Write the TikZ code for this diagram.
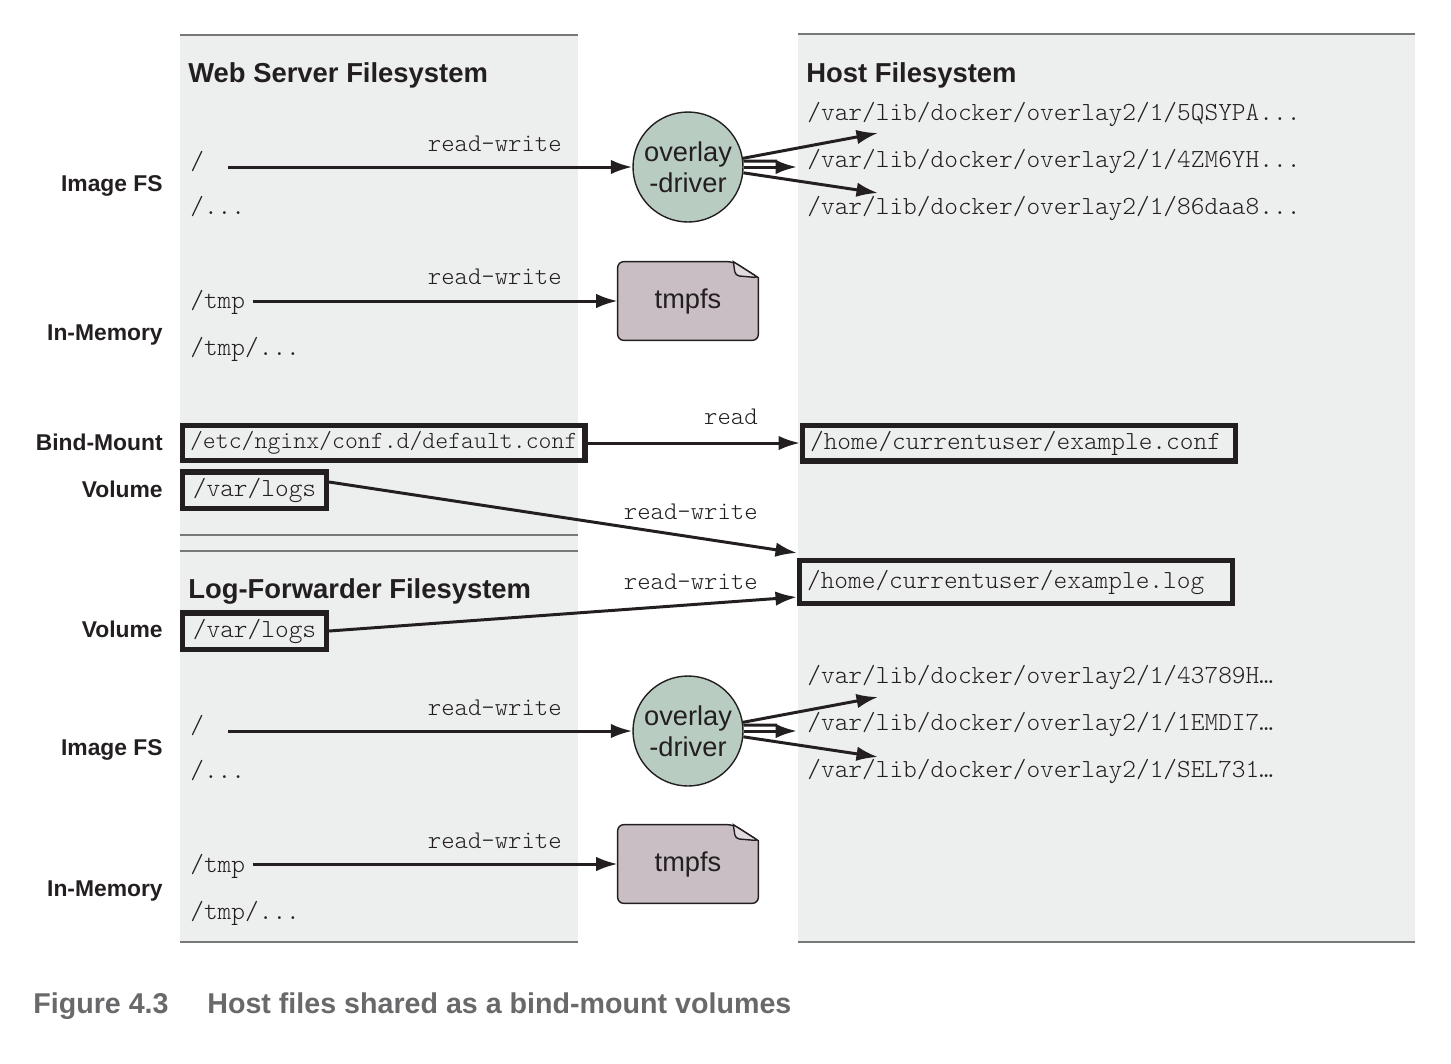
\documentclass[tikz,border=0pt]{standalone}
\usepackage{fontspec}
\setmainfont{Liberation Sans}
\setmonofont{lmmonolt10-regular.otf}
\usetikzlibrary{arrows.meta,calc}

\definecolor{panelgray}{RGB}{237,238,238}
\definecolor{rulegray}{RGB}{120,120,120}
\definecolor{drivergreen}{RGB}{185,204,193}
\definecolor{tmpfsmauve}{RGB}{201,190,196}
\definecolor{captiongray}{RGB}{105,105,107}
\definecolor{ink}{RGB}{35,31,32}

\tikzset{
  panel/.style={fill=panelgray},
  panelrule/.style={draw=rulegray,line width=1.6pt},
  fstitle/.style={anchor=base west,inner sep=0pt,text=ink,font=\fontsize{15.6}{18}\selectfont\bfseries},
  sidelabel/.style={anchor=base east,inner sep=0pt,text=ink,font=\fontsize{13}{15}\selectfont\bfseries},
  fsentry/.style={anchor=base west,inner sep=0pt,text=ink,font=\fontsize{14.85}{17}\selectfont\ttfamily},
  access/.style={anchor=base east,inner sep=0pt,text=ink,font=\fontsize{14.5}{17}\selectfont\ttfamily},
  mount/.style={draw=ink,line width=2.9pt,anchor=west,inner xsep=0.15cm,minimum height=0.65cm,text=ink,font=\fontsize{14.85}{17}\selectfont\ttfamily},
  hostmount/.style={mount,text width=8.36cm,align=left},
  driver/.style={circle,draw=ink,line width=0.8pt,fill=drivergreen,minimum size=2.2cm,inner sep=0pt,align=center,text=ink,font=\fontsize{15.5}{17.6}\selectfont},
  tmpfsbox/.style={minimum width=2.8cm,minimum height=1.56cm,inner sep=0pt},
  arr/.style={draw=ink,line width=1.7pt,-{Latex[length=0.43cm,width=0.29cm]}},
  fan/.style={draw=ink,line width=1.7pt},
  caption/.style={anchor=base west,inner sep=0pt,text=captiongray,font=\fontsize{16.3}{19}\selectfont\bfseries},
}

% tmpfs sheet with a folded corner
\newcommand\foldedsheet[2]{%
  \filldraw[fill=tmpfsmauve,draw=ink,line width=0.8pt,rounded corners=0.12cm]
    ($(#1.north east)+(0,16)$) -- (#1.south east) -- (#1.south west) -- (#1.north west)
    -- ($(#1.north east)+(-25,0)$) [sharp corners] -- cycle;
  \filldraw[fill=tmpfsmauve!55,draw=ink,line width=0.8pt,rounded corners=0.08cm]
    ($(#1.north east)+(-25,0)$) -- ($(#1.north east)+(-23,14)$) -- ($(#1.north east)+(0,16)$) [sharp corners] -- cycle;
  \node[text=ink,font=\fontsize{15.5}{18}\selectfont] (#1-label) at (#1.center) {#2};
}

\begin{document}
\begin{tikzpicture}[x=0.02cm,y=-0.02cm]
\useasboundingbox (0,0) rectangle (1451,1063);

% panels
\fill[panel] (180,35) rectangle (578,942);
\fill[panel] (798,34) rectangle (1415,942);
\foreach \y in {35,535,551,942}
  \draw[panelrule] (180,\y) -- (578,\y);
\draw[panelrule] (798,34) -- (1415,34);
\draw[panelrule] (798,942) -- (1415,942);

% titles
\node[fstitle] (ws-title) at (188,82) {Web Server Filesystem};
\node[fstitle] (lf-title) at (188,598) {Log-Forwarder Filesystem};
\node[fstitle] (host-title) at (806,82) {Host Filesystem};

% side labels
\node[sidelabel] (side-img1) at (163,191) {Image FS};
\node[sidelabel] (side-mem1) at (163,340) {In-Memory};
\node[sidelabel] (side-bind) at (163,450) {Bind-Mount};
\node[sidelabel] (side-vol1) at (163,497) {Volume};
\node[sidelabel] (side-vol2) at (163,637) {Volume};
\node[sidelabel] (side-img2) at (163,755) {Image FS};
\node[sidelabel] (side-mem2) at (163,896) {In-Memory};

% web server entries
\node[fsentry] (ws-root) at (190,169) {/};
\node[fsentry] (ws-rootall) at (190,214) {/...};
\node[fsentry] (ws-tmp) at (190,308) {/tmp};
\node[fsentry] (ws-tmpall) at (190,355) {/tmp/...};

% log forwarder entries
\node[fsentry] (lf-root) at (190,733) {/};
\node[fsentry] (lf-rootall) at (190,778) {/...};
\node[fsentry] (lf-tmp) at (190,872) {/tmp};
\node[fsentry] (lf-tmpall) at (190,919) {/tmp/...};

% host layers
\node[fsentry] (host-l1) at (807,120) {/var/lib/docker/overlay2/1/5QSYPA...};
\node[fsentry] (host-l2) at (807,167) {/var/lib/docker/overlay2/1/4ZM6YH...};
\node[fsentry] (host-l3) at (807,214) {/var/lib/docker/overlay2/1/86daa8...};
\node[fsentry] (host-l4) at (807,683) {/var/lib/docker/overlay2/1/43789H\ldots};
\node[fsentry] (host-l5) at (807,730) {/var/lib/docker/overlay2/1/1EMDI7\ldots};
\node[fsentry] (host-l6) at (807,777) {/var/lib/docker/overlay2/1/SEL731\ldots};

% mount boxes
\node[mount,font=\fontsize{14}{17}\selectfont\ttfamily] (ws-bind) at (180,443) {/etc/nginx/conf.d/default.conf};
\node[mount,minimum width=2.88cm] (ws-vol) at (180,490) {/var/logs};
\node[mount,minimum width=2.88cm] (lf-vol) at (180,631) {/var/logs};
\node[hostmount] (host-conf) at (800,443) {/home/currentuser/example.conf};
\node[hostmount,minimum height=0.86cm] (host-log) at (797,582) {/home/currentuser/example.log};

% drivers and tmpfs
\node[driver] (ws-drv) at (688,167) {overlay\\-driver};
\node[driver] (lf-drv) at (688,731) {overlay\\-driver};
\node[tmpfsbox] (ws-tmpfs) at (688,301) {};
\node[tmpfsbox] (lf-tmpfs) at (688,864) {};
\foldedsheet{ws-tmpfs}{tmpfs}
\foldedsheet{lf-tmpfs}{tmpfs}

% connectors
\coordinate (ws-root-out) at (228,167);
\coordinate (lf-root-out) at (228,731);
\draw[arr] (ws-root-out) -- (ws-drv.west);
\draw[arr] (lf-root-out) -- (lf-drv.west);
\draw[arr,shorten <=4pt] (ws-tmp.east |- ws-tmpfs.west) -- (ws-tmpfs.west);
\draw[arr,shorten <=4pt] (lf-tmp.east |- lf-tmpfs.west) -- (lf-tmpfs.west);

\coordinate (ws-fan1) at (878,133);
\coordinate (ws-fan2) at (797,167);
\coordinate (ws-fan3) at (878,193);
\coordinate (lf-fan1) at (878,697);
\coordinate (lf-fan2) at (797,731);
\coordinate (lf-fan3) at (878,757);
\draw[arr] (ws-drv.9) -- (ws-fan1);
\draw[arr] (ws-drv.east) -- (ws-fan2);
\draw[fan] (ws-drv.6) -- ($(ws-fan2)+(-20,-6)$);
\draw[arr] (ws-drv.-6) -- (ws-fan3);
\draw[arr] (lf-drv.9) -- (lf-fan1);
\draw[arr] (lf-drv.east) -- (lf-fan2);
\draw[fan] (lf-drv.6) -- ($(lf-fan2)+(-20,-6)$);
\draw[arr] (lf-drv.-6) -- (lf-fan3);

\draw[arr] (ws-bind.east) -- (host-conf.west);
\draw[arr] ($(ws-vol.east)+(0,-8)$) -- ($(host-log.north west)+(0,-5)$);
\draw[arr] (lf-vol.east) -- ($(host-log.west)+(0,15)$);

% access labels
\node[access] (ws-rw1) at (562,151) {read-write};
\node[access] (ws-rw2) at (562,284) {read-write};
\node[access] (bind-r) at (758,424) {read};
\node[access] (vol-rw1) at (758,519) {read-write};
\node[access] (vol-rw2) at (758,589) {read-write};
\node[access] (lf-rw1) at (562,715) {read-write};
\node[access] (lf-rw2) at (562,848) {read-write};

% caption
\node[caption] (fig-num) at (33,1013) {Figure 4.3};
\node[caption] (fig-text) at (207,1013) {Host files shared as a bind-mount volumes};
\end{tikzpicture}
\end{document}
